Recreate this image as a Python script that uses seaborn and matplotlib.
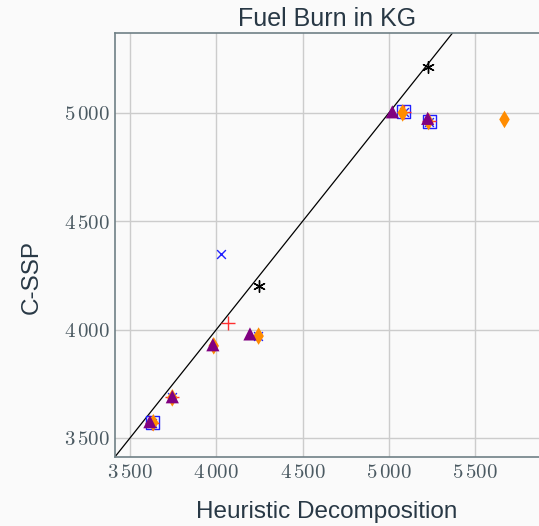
import numpy as np
import pandas as pd
import seaborn as sns
import matplotlib.pyplot as plt
from matplotlib.ticker import FuncFormatter

# =========================
# DATA
# =========================
sq_x = [3630, 5085, 5235]
sq_y = [3570, 5005, 4960]

x_x = [3630, 3745, 4240, 4030, 5085, 5230]
x_y = [3570, 3690, 3970, 4350, 5005, 4960]

plus_x = [3625, 3745, 4070, 5085, 5230]
plus_y = [3570, 3690, 4030, 5005, 4965]

dia_x = [3635, 3745, 3985, 4245, 5080, 5230, 5670]
dia_y = [3570, 3685, 3925, 3970, 5000, 4960, 4970]

tri_x = [3615, 3745, 3980, 4195, 5020, 5225]
tri_y = [3575, 3690, 3930, 3980, 5005, 4975]

star_x = [4245, 5225]
star_y = [4200, 5210]

x_ticks = [3500, 4000, 4500, 5000, 5500]
y_ticks = [3500, 4000, 4500, 5000]

# =========================
# STYLE
# =========================
sns.set_theme(style="whitegrid")
plt.rcParams["font.family"] = ["Liberation Sans", "DejaVu Sans"]
plt.rcParams["mathtext.fontset"] = "cm"

text_col = "#283845"
fig = plt.figure(figsize=(5.39, 5.26), dpi=100, facecolor="#fafafa")
ax = fig.add_axes([0.2134, 0.1312, 0.7866, 0.8061])
ax.set_facecolor("#fafafa")

xmin, xmax = 3413, 5870
ymin, ymax = 3412, 5369

# y = x reference line
ax.plot([xmin, xmax], [xmin, xmax], color="black", lw=0.9, zorder=2)

sns.scatterplot(x=sq_x, y=sq_y, marker="s", s=90, facecolor="none",
                edgecolor="#1f1fff", linewidth=1.0, ax=ax, zorder=3)
sns.scatterplot(x=x_x, y=x_y, marker="x", s=40, color="#2020ff",
                linewidth=1.0, ax=ax, zorder=4)
sns.scatterplot(x=plus_x, y=plus_y, marker="+", s=90, color="#ff3030",
                linewidth=1.0, ax=ax, zorder=5)
sns.scatterplot(x=dia_x, y=dia_y, marker="d", s=80, color="#ff8c00",
                edgecolor="none", ax=ax, zorder=6)
sns.scatterplot(x=tri_x, y=tri_y, marker="^", s=90, color="#800080",
                edgecolor="none", ax=ax, zorder=7)
sns.scatterplot(x=star_x, y=star_y, marker=(6, 2, 0), s=70, color="black",
                linewidth=1.0, ax=ax, zorder=8)

ax.set_xlim(xmin, xmax)
ax.set_ylim(ymin, ymax)
ax.set_xticks(x_ticks)
ax.set_yticks(y_ticks)

fmt = FuncFormatter(lambda v, p: r"$%d\,%03d$" % (int(v) // 1000, int(v) % 1000))
ax.xaxis.set_major_formatter(fmt)
ax.yaxis.set_major_formatter(fmt)
ax.tick_params(labelsize=15, colors="#4b5a62", length=0, pad=4)

ax.grid(True, color="#cccccc", lw=1.0)
for side in ["left", "top", "bottom"]:
    ax.spines[side].set_visible(True)
    ax.spines[side].set_color("#6f8086")
    ax.spines[side].set_linewidth(1.2)
ax.spines["right"].set_visible(False)

ax.set_title("Fuel Burn in KG", fontsize=18, color=text_col, pad=5)
ax.set_xlabel("Heuristic Decomposition", fontsize=17.5, color=text_col, labelpad=14)
ax.set_ylabel("C-SSP", fontsize=17.5, color=text_col, labelpad=18)
ax.yaxis.set_label_coords(-0.17, 0.425)

plt.savefig("out.png", dpi=100, facecolor=fig.get_facecolor())
